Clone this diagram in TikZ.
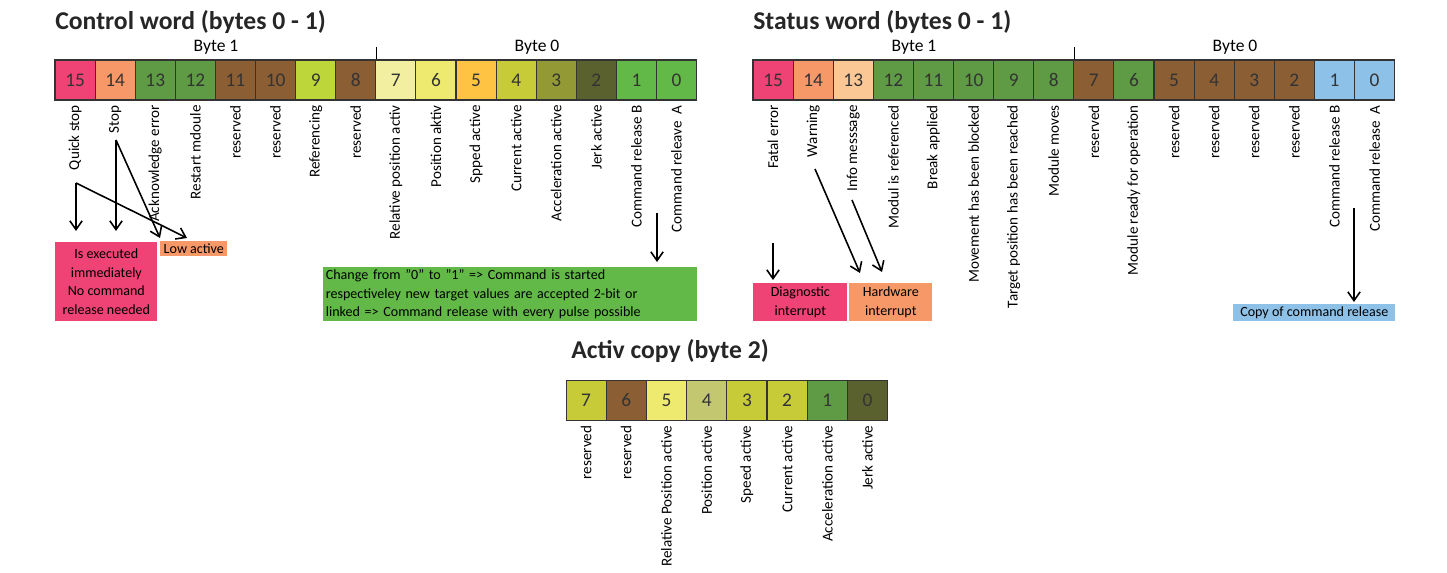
\documentclass[tikz,border=0pt]{standalone}
\usepackage{fontspec}
\setmainfont{Carlito}
\usetikzlibrary{arrows.meta}
\definecolor{cpink}{HTML}{EE4374}
\definecolor{corange}{HTML}{F79868}
\definecolor{cpeach}{HTML}{FBC794}
\definecolor{cgreen}{HTML}{5E9B44}
\definecolor{clgreen}{HTML}{62B947}
\definecolor{cbrown}{HTML}{8B5E34}
\definecolor{clime}{HTML}{BDD639}
\definecolor{cpale}{HTML}{F2EFA0}
\definecolor{cyellow}{HTML}{EEEA70}
\definecolor{cgold}{HTML}{FEC343}
\definecolor{colivea}{HTML}{C7CB38}
\definecolor{coliveb}{HTML}{939935}
\definecolor{colivec}{HTML}{5A612E}
\definecolor{colived}{HTML}{C3C870}
\definecolor{cblue}{HTML}{8EC1E8}
\begin{document}
\begin{tikzpicture}[x=0.02cm,y=-0.02cm,
  bitcell/.style={draw=black!80,line width=0.6pt,minimum width=0.802cm,minimum height=0.8cm,inner sep=0pt,text=black!80,font=\fontsize{11}{13}\selectfont},
  bitlabel/.style={rotate=90,anchor=east,inner sep=0pt,font=\fontsize{8.6}{10}\selectfont},
  wordtitle/.style={anchor=base west,inner sep=0pt,font=\fontsize{14.6}{17}\selectfont\bfseries,text=black!85},
  bytename/.style={anchor=base,font=\fontsize{10}{12}\selectfont},
  note/.style={anchor=north west,inner sep=1pt,align=center,font=\fontsize{8}{10.5}\selectfont},
  arr/.style={-{Straight Barb[length=5pt,width=7pt]},line width=0.9pt}]
\useasboundingbox (0,0) rectangle (1447,573);

% control word
\node[wordtitle] (ctitle) at (55,30) {Control word (bytes 0 - 1)};
\foreach \b/\col [count=\k from 0] in {15/cpink,14/corange,13/cgreen,12/cgreen,11/cbrown,10/cbrown,9/clime,8/cbrown,
    7/cpale,6/cyellow,5/cgold,4/colivea,3/coliveb,2/colivec,1/clgreen,0/clgreen}
  \node[bitcell,fill=\col] (c\b) at ({55+40.1*(\k+0.5)},80) {\b};
\foreach \b/\txt in {15/Quick stop,14/Stop,13/Acknowledge error,12/Restart mdoule,11/reserved,10/reserved,
    9/Referencing,8/reserved,7/Relative position activ,6/Position aktiv,5/Spped active,4/Current active,
    3/Acceleration active,2/Jerk active,1/Command release B,0/Command releave\ \ A}
  \node[bitlabel] (cl\b) at ([yshift=-2.5pt]c\b.south) {\txt};
\node[bytename] (cb1) at (216,52) {Byte 1};
\node[bytename] (cb0) at (537,52) {Byte 0};
\draw (c8.north east) -- ++(0,-12);

\node[note,fill=cpink,minimum width=2.04cm,minimum height=1.58cm] (exec) at (55,242) {Is executed\\immediately\\No command\\release needed};
\node[note,fill=corange,minimum width=1.34cm,minimum height=0.3cm,inner sep=0pt] (low) at (160,241) {Low active};
\node[note,fill=clgreen,align=left,text width=7.38cm,minimum height=1.08cm,inner sep=0.05cm] (chg) at (323,267)
  {Change from "0" to "1" => Command is started\\respectiveley new target values are accepted 2-bit or\\linked => Command release with every pulse possible};

\coordinate (qs) at (76,183);
\coordinate (st) at (116,140);
\coordinate (cr) at (657,213);
\draw[arr,shorten >=0.22cm] (qs) -- (qs |- exec.north);
\draw[arr] (qs) -- ([shift={(27,-3)}]low.north west);
\draw[arr,shorten >=0.22cm] (st) -- (st |- exec.north);
\draw[arr] (st) -- ([shift={(0,-3)}]low.north west);
\draw[arr,shorten >=0.1cm] (cr) -- (cr |- chg.north);

% status word
\node[wordtitle] (stitle) at (753,30) {Status word (bytes 0 - 1)};
\foreach \b/\col [count=\k from 0] in {15/cpink,14/corange,13/cpeach,12/cgreen,11/cgreen,10/cgreen,9/cgreen,8/cgreen,
    7/cbrown,6/cgreen,5/cbrown,4/cbrown,3/cbrown,2/cbrown,1/cblue,0/cblue}
  \node[bitcell,fill=\col] (s\b) at ({753+40.1*(\k+0.5)},80) {\b};
\foreach \b/\txt in {15/Fatal error,14/Warning,13/Info messsage,12/Modul is referenced,11/Break applied,
    10/Movement has been blocked,9/Target position has been reached,8/Module moves,7/reserved,
    6/Module ready for operation,5/reserved,4/reserved,3/reserved,2/reserved,1/Command release B,0/Command release\ \ A}
  \node[bitlabel] (sl\b) at ([yshift=-2.5pt]s\b.south) {\txt};
\node[bytename] (sb1) at (914,52) {Byte 1};
\node[bytename] (sb0) at (1235,52) {Byte 0};
\draw (s8.north east) -- ++(0,-12);

\node[note,fill=cpink,minimum width=1.88cm,minimum height=0.76cm] (diag) at (753,283) {Diagnostic\\interrupt};
\node[note,fill=corange,minimum width=1.66cm,minimum height=0.76cm] (hw) at (849,283) {Hardware\\interrupt};
\node[note,fill=cblue,minimum width=3.24cm,minimum height=0.34cm,inner sep=0pt] (copy) at (1233,304) {Copy of command release};

\coordinate (fe) at (773,243);
\coordinate (wn) at (815,169);
\coordinate (im) at (852,200);
\coordinate (scr) at (1354,208);
\draw[arr,shorten >=0.06cm] (fe) -- (fe |- diag.north);
\draw[arr] (wn) -- ([shift={(11,-10)}]hw.north west);
\draw[arr] (im) -- ([shift={(33,-11)}]hw.north west);
\draw[arr,shorten >=0.04cm] (scr) -- (scr |- copy.north);

% activ copy
\node[wordtitle] (atitle) at (571,359) {Activ copy (byte 2)};
\foreach \b/\col [count=\k from 0] in {7/colivea,6/cbrown,5/cyellow,4/colived,3/colivea,2/colivea,1/cgreen,0/colivec}
  \node[bitcell,fill=\col] (a\b) at ({566+40.2*(\k+0.5)},400.5) {\b};
\foreach \b/\txt in {7/reserved,6/reserved,5/Relative Position active,4/Position active,3/Speed active,
    2/Current active,1/Acceleration active,0/Jerk active}
  \node[bitlabel] (al\b) at ([yshift=-2.5pt]a\b.south) {\txt};
\end{tikzpicture}
\end{document}
